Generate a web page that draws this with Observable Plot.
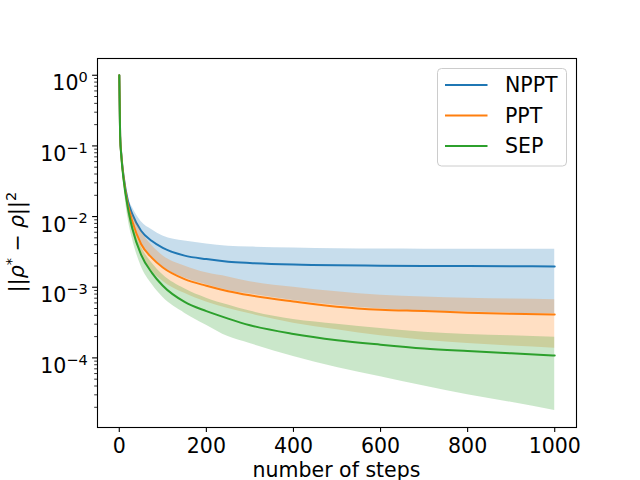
<!DOCTYPE html>
<html><head><meta charset="utf-8">
<script src="https://cdn.jsdelivr.net/npm/d3@7"></script>
<script src="https://cdn.jsdelivr.net/npm/@observablehq/plot@0.6"></script>
<style>
body{margin:0;background:#fff;}
#chart{width:640px;height:480px;}
</style>
</head><body><div id="chart"></div>
<script>
// ---- data ----
const steps    = [0, 2, 5, 10, 20, 30, 50, 75, 100, 150, 200, 250, 300, 400, 500, 600, 700, 800, 900, 1000];
const npptMean = [1.0, 0.14, 0.072, 0.037, 0.0165, 0.0108, 0.0063, 0.0045, 0.0036, 0.0028, 0.0025, 0.0023, 0.0022, 0.00209, 0.00204, 0.00202, 0.002, 0.00199, 0.00198, 0.00197];
const npptHigh = [1.0, 0.145, 0.076, 0.040, 0.019, 0.0135, 0.0085, 0.0065, 0.0053, 0.0045, 0.0041, 0.0038, 0.0037, 0.0036, 0.0035, 0.00347, 0.00346, 0.00346, 0.00346, 0.00346];
const npptLow  = [1.0, 0.135, 0.069, 0.034, 0.0148, 0.0088, 0.0042, 0.0027, 0.00195, 0.00135, 0.00108, 0.0009, 0.0008, 0.00065, 0.00055, 0.00049, 0.00046, 0.000445, 0.00043, 0.00042];
const pptMean  = [1.0, 0.138, 0.07, 0.035, 0.0145, 0.0085, 0.0041, 0.0026, 0.0019, 0.0013, 0.00105, 0.00088, 0.00077, 0.00063, 0.00053, 0.00048, 0.00046, 0.000435, 0.00042, 0.00041];
const pptHigh  = [1.0, 0.142, 0.073, 0.037, 0.017, 0.0112, 0.0062, 0.0039, 0.0028, 0.002, 0.0016, 0.0014, 0.0012, 0.001, 0.00086, 0.00077, 0.00073, 0.0007, 0.00068, 0.000667];
const pptLow   = [1.0, 0.132, 0.066, 0.032, 0.011, 0.0062, 0.0029, 0.0017, 0.00122, 0.00082, 0.00062, 0.0005, 0.00042, 0.00031, 0.00025, 0.000205, 0.000178, 0.00016, 0.000147, 0.000137];
const sepMean  = [1.0, 0.135, 0.068, 0.033, 0.013, 0.0068, 0.0029, 0.0016, 0.00105, 0.00062, 0.00046, 0.00036, 0.00029, 0.000218, 0.000178, 0.000154, 0.000136, 0.000125, 0.000116, 0.000108];
const sepHigh  = [1.0, 0.14, 0.071, 0.035, 0.0145, 0.0081, 0.0038, 0.0022, 0.0015, 0.00095, 0.0007, 0.00056, 0.00046, 0.00035, 0.0003, 0.00026, 0.00023, 0.000215, 0.000205, 0.000196];
const sepLow   = [1.0, 0.128, 0.063, 0.029, 0.0095, 0.0049, 0.0020, 0.0011, 0.00072, 0.00043, 0.00029, 0.0002, 0.00016, 0.000105, 0.000073, 0.000054, 0.00004, 0.00003, 0.0000235, 0.000018];

const seriesNames = ["NPPT", "PPT", "SEP"];
const seriesColors = ["#1f77b4", "#ff7f0e", "#2ca02c"];
const xTicks = [0, 200, 400, 600, 800, 1000];
const yTickExponents = [-4, -3, -2, -1, 0];
const xLabel = "number of steps";

// ---- build tables ----
const seriesData = [
  {name: seriesNames[0], color: seriesColors[0], mean: npptMean, low: npptLow, high: npptHigh},
  {name: seriesNames[1], color: seriesColors[1], mean: pptMean, low: pptLow, high: pptHigh},
  {name: seriesNames[2], color: seriesColors[2], mean: sepMean, low: sepLow, high: sepHigh}
].map(s => ({...s, rows: steps.map((st, i) => ({step: st, mean: s.mean[i], low: s.low[i], high: s.high[i]}))}));

const yMajor = yTickExponents.map(e => Math.pow(10, e));
const yMinor = [];
for (let e = -5; e <= 0; e++) for (let m = 2; m <= 9; m++) {
  const v = m * Math.pow(10, e);
  if (v > 1.04e-5 && v < 1.72) yMinor.push(v);
}

const FONT = "DejaVu Sans";
const FS = 20.5;

const marks = [];
for (const s of seriesData) {
  marks.push(Plot.areaY(s.rows, {x: "step", y1: "low", y2: "high", fill: s.color, fillOpacity: 0.25, curve: "monotone-x"}));
  marks.push(Plot.lineY(s.rows, {x: "step", y: "mean", stroke: s.color, strokeWidth: 2, curve: "monotone-x"}));
}
marks.push(Plot.axisX(xTicks, {tickSize: 4.9, tickPadding: 6.5, strokeWidth: 1.1, fontSize: FS, label: null,
  tickFormat: d => String(d)}));
marks.push(Plot.axisY(yMajor, {tickSize: 4.9, tickPadding: 4.9, strokeWidth: 1.1, fontSize: FS, label: null,
  tickFormat: d => "10^" + Math.round(Math.log10(d))}));
marks.push(Plot.axisY(yMinor, {tickSize: 2.8, strokeWidth: 0.8, tickFormat: () => "", label: null}));
marks.push(Plot.frame({stroke: "black", strokeWidth: 1.1}));

const chart = Plot.plot({
  width: 640, height: 480,
  marginLeft: 97, marginRight: 64, marginTop: 58, marginBottom: 53,
  style: {fontFamily: FONT, fontSize: FS + "px", background: "white", color: "black", overflow: "visible"},
  x: {domain: [-50, 1050], label: null},
  y: {type: "log", domain: [1.035e-5, 1.726], label: null},
  marks
});
document.getElementById("chart").appendChild(chart);

const svg = d3.select(chart);

// superscripted y tick labels
svg.selectAll('g[aria-label="y-axis tick label"] text').each(function() {
  const t = d3.select(this);
  const txt = t.text();
  if (!txt.includes("^")) return;
  const [base, exp] = txt.split("^");
  t.text("");
  t.attr("dy", "0.42em");
  t.append("tspan").text(base);
  t.append("tspan").attr("font-size", 14.5).attr("dy", -8.5).text(exp.replace("-", "\u2212"));
});

// x label
svg.append("text")
  .attr("x", 336.5).attr("y", 476.5)
  .attr("text-anchor", "middle")
  .attr("font-family", FONT).attr("font-size", FS)
  .text(xLabel);

// y label: ||ρ* − ρ||²
const yl = svg.append("text")
  .attr("transform", "translate(24,242) rotate(-90)")
  .attr("text-anchor", "middle")
  .attr("font-family", FONT).attr("font-size", FS);
yl.append("tspan").text("||");
yl.append("tspan").attr("font-style", "italic").text("\u03C1");
yl.append("tspan").attr("font-size", 14.5).attr("dy", -8.5).text("*");
yl.append("tspan").attr("dy", 8.5).text(" \u2212 ");
yl.append("tspan").attr("font-style", "italic").text("\u03C1");
yl.append("tspan").text("||");
yl.append("tspan").attr("font-size", 14.5).attr("dy", -8.5).text("2");

// legend
const lg = svg.append("g").attr("text-anchor", "start");
lg.append("rect").attr("x", 437.5).attr("y", 68.5).attr("width", 129).attr("height", 97.5)
  .attr("rx", 4).attr("fill", "white").attr("fill-opacity", 0.8).attr("stroke", "#cccccc").attr("stroke-width", 1);
const rowY = [85, 115.5, 146];
seriesData.forEach((s, i) => {
  lg.append("line").attr("x1", 445).attr("x2", 487.5).attr("y1", rowY[i]).attr("y2", rowY[i])
    .attr("stroke", s.color).attr("stroke-width", 2);
  lg.append("text").attr("x", 505).attr("y", rowY[i] + 7.4).attr("text-anchor", "start")
    .attr("font-family", FONT).attr("font-size", FS).text(s.name);
});
</script>
</body></html>
